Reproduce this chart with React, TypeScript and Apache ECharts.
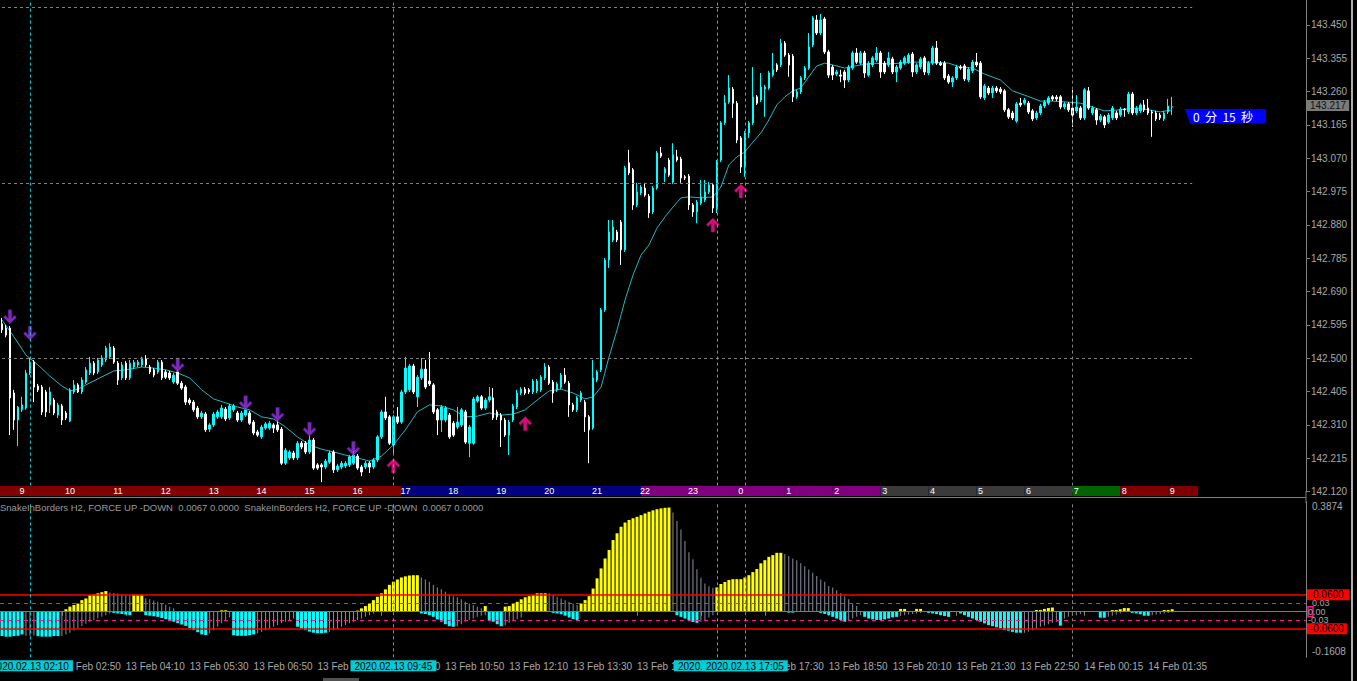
import React, { useEffect, useRef } from 'react';
import * as echarts from 'echarts';

const FONT = "'Liberation Sans', Arial, sans-serif";
const N_CAT = 327;
const categories: string[] = Array.from({ length: N_CAT }, (_, i) => String(i));

// [open, close, low, high] per M5 bar
const candles: number[][] = [
  [142.598,142.581,142.572,142.615],[142.586,142.566,142.560,142.595],[142.586,142.387,142.281,142.592],[142.401,142.324,142.296,142.410],
  [142.324,142.361,142.250,142.364],[142.353,142.367,142.347,142.390],[142.358,142.458,142.353,142.467],[142.458,142.489,142.452,142.501],
  [142.489,142.418,142.375,142.495],[142.421,142.410,142.404,142.427],[142.418,142.347,142.338,142.424],[142.404,142.347,142.333,142.410],
  [142.367,142.404,142.344,142.418],[142.381,142.344,142.338,142.387],[142.338,142.367,142.330,142.373],[142.364,142.324,142.310,142.370],
  [142.344,142.330,142.324,142.350],[142.321,142.410,142.318,142.415],[142.404,142.424,142.398,142.438],[142.424,142.404,142.401,142.429],
  [142.404,142.438,142.398,142.446],[142.432,142.467,142.427,142.475],[142.458,142.486,142.452,142.504],[142.486,142.458,142.452,142.492],
  [142.461,142.495,142.455,142.501],[142.481,142.501,142.475,142.509],[142.495,142.529,142.489,142.535],[142.504,142.532,142.498,142.543],
  [142.529,142.489,142.484,142.535],[142.486,142.438,142.424,142.492],[142.444,142.481,142.438,142.489],[142.486,142.444,142.438,142.492],
  [142.444,142.486,142.438,142.495],[142.475,142.489,142.469,142.495],[142.481,142.489,142.475,142.495],[142.481,142.501,142.475,142.504],
  [142.498,142.481,142.475,142.509],[142.475,142.461,142.455,142.481],[142.467,142.452,142.446,142.472],[142.461,142.489,142.455,142.495],
  [142.489,142.444,142.438,142.495],[142.461,142.446,142.441,142.467],[142.458,142.444,142.438,142.464],[142.432,142.452,142.427,142.458],
  [142.461,142.429,142.424,142.467],[142.429,142.415,142.410,142.435],[142.418,142.375,142.367,142.424],[142.381,142.373,142.367,142.387],
  [142.375,142.353,142.347,142.381],[142.358,142.333,142.327,142.364],[142.333,142.344,142.327,142.350],[142.341,142.296,142.290,142.347],
  [142.298,142.310,142.290,142.315],[142.310,142.341,142.304,142.347],[142.333,142.347,142.327,142.353],[142.333,142.358,142.327,142.367],
  [142.355,142.327,142.321,142.361],[142.330,142.364,142.324,142.370],[142.353,142.364,142.347,142.370],[142.344,142.324,142.318,142.350],
  [142.324,142.344,142.318,142.350],[142.338,142.353,142.333,142.358],[142.344,142.315,142.310,142.350],[142.318,142.287,142.281,142.324],
  [142.290,142.281,142.276,142.296],[142.276,142.304,142.270,142.310],[142.301,142.313,142.296,142.318],[142.301,142.315,142.296,142.321],
  [142.310,142.301,142.287,142.315],[142.310,142.296,142.290,142.324],[142.298,142.201,142.196,142.304],[142.201,142.238,142.196,142.244],
  [142.216,142.233,142.210,142.238],[142.230,142.216,142.210,142.236],[142.216,142.258,142.210,142.264],[142.258,142.247,142.241,142.264],
  [142.258,142.233,142.227,142.264],[142.233,142.267,142.227,142.281],[142.267,142.187,142.182,142.273],[142.196,142.187,142.182,142.201],
  [142.196,142.190,142.147,142.201],[142.190,142.207,142.184,142.213],[142.204,142.230,142.199,142.236],[142.233,142.182,142.173,142.238],
  [142.182,142.193,142.176,142.199],[142.190,142.201,142.184,142.207],[142.193,142.201,142.187,142.207],[142.196,142.219,142.190,142.224],
  [142.201,142.224,142.196,142.236],[142.221,142.187,142.182,142.227],[142.190,142.176,142.164,142.196],[142.190,142.201,142.184,142.207],
  [142.201,142.190,142.173,142.207],[142.190,142.210,142.184,142.216],[142.210,142.276,142.204,142.281],[142.276,142.347,142.270,142.353],
  [142.347,142.330,142.324,142.390],[142.333,142.258,142.253,142.338],[142.253,142.333,142.224,142.338],[142.333,142.318,142.313,142.361],
  [142.318,142.404,142.313,142.410],[142.404,142.472,142.398,142.504],[142.410,142.478,142.404,142.484],[142.478,142.404,142.398,142.484],
  [142.390,142.446,142.361,142.452],[142.444,142.469,142.438,142.501],[142.469,142.418,142.412,142.495],[142.435,142.427,142.421,142.518],
  [142.424,142.347,142.341,142.429],[142.353,142.324,142.281,142.358],[142.324,142.361,142.290,142.367],[142.324,142.358,142.318,142.364],
  [142.338,142.276,142.270,142.344],[142.315,142.281,142.276,142.321],[142.304,142.318,142.298,142.361],[142.310,142.353,142.304,142.358],
  [142.347,142.261,142.256,142.353],[142.258,142.304,142.218,142.310],[142.258,142.384,142.253,142.390],[142.378,142.390,142.373,142.395],
  [142.390,142.358,142.353,142.395],[142.358,142.381,142.353,142.387],[142.381,142.390,142.375,142.418],[142.387,142.330,142.324,142.415],
  [142.347,142.333,142.324,142.353],[142.338,142.324,142.247,142.344],[142.324,142.281,142.276,142.330],[142.281,142.318,142.224,142.324],
  [142.324,142.364,142.318,142.370],[142.361,142.401,142.355,142.410],[142.401,142.412,142.395,142.418],[142.412,142.401,142.395,142.418],
  [142.410,142.404,142.398,142.415],[142.404,142.435,142.398,142.441],[142.407,142.435,142.401,142.441],[142.410,142.446,142.404,142.452],
  [142.444,142.475,142.438,142.486],[142.475,142.429,142.424,142.481],[142.432,142.401,142.373,142.438],[142.410,142.427,142.404,142.432],
  [142.418,142.452,142.412,142.458],[142.452,142.432,142.427,142.472],[142.429,142.367,142.333,142.435],[142.367,142.353,142.347,142.373],
  [142.353,142.387,142.347,142.392],[142.381,142.401,142.375,142.407],[142.375,142.333,142.290,142.381],[142.333,142.296,142.201,142.338],
  [142.301,142.444,142.296,142.495],[142.438,142.461,142.432,142.467],[142.467,142.638,142.461,142.643],[142.638,142.780,142.632,142.786],
  [142.780,142.860,142.757,142.894],[142.837,142.874,142.831,142.894],[142.860,142.837,142.831,142.866],[142.888,142.809,142.766,142.894],
  [142.809,143.042,142.803,143.048],[143.057,143.028,143.022,143.094],[143.037,142.937,142.923,143.042],[142.937,142.974,142.931,143.000],
  [142.971,142.988,142.965,142.994],[142.985,142.965,142.960,143.000],[142.962,142.914,142.900,142.968],[142.917,142.985,142.911,142.991],
  [142.985,143.085,142.980,143.091],[143.085,143.076,143.071,143.102],[143.028,143.040,143.002,143.045],[143.065,143.022,143.017,143.071],
  [143.002,143.080,142.997,143.113],[143.074,143.065,143.060,143.094],[143.068,143.014,143.000,143.074],[143.017,143.014,143.008,143.022],
  [143.019,142.937,142.923,143.025],[142.937,142.917,142.903,142.942],[142.917,142.945,142.885,142.951],[142.942,142.960,142.937,143.008],
  [142.951,142.974,142.945,143.008],[142.974,142.994,142.968,143.002],[142.994,142.928,142.914,143.000],[142.928,143.059,142.914,143.065],
  [143.065,143.171,143.059,143.176],[143.171,143.228,143.165,143.250],[143.230,143.270,143.225,143.307],[143.267,143.227,143.185,143.273],
  [143.227,143.122,143.113,143.233],[143.128,143.045,143.028,143.133],[143.045,143.142,143.017,143.148],[143.142,143.171,143.128,143.176],
  [143.171,143.245,143.165,143.330],[143.245,143.227,143.222,143.250],[143.236,143.273,143.230,143.313],[143.267,143.273,143.188,143.279],
  [143.270,143.313,143.265,143.319],[143.307,143.322,143.302,143.370],[143.336,143.322,143.316,143.341],[143.336,143.398,143.330,143.410],
  [143.398,143.364,143.359,143.404],[143.364,143.336,143.302,143.370],[143.361,143.245,143.230,143.367],[143.245,143.259,143.239,143.265],
  [143.259,143.299,143.253,143.304],[143.299,143.327,143.293,143.333],[143.327,143.387,143.322,143.427],[143.393,143.470,143.387,143.475],
  [143.464,143.427,143.421,143.478],[143.427,143.464,143.421,143.481],[143.467,143.373,143.367,143.473],[143.373,143.307,143.299,143.379],
  [143.330,143.307,143.293,143.336],[143.310,143.316,143.304,143.322],[143.307,143.304,143.287,143.322],[143.316,143.293,143.270,143.322],
  [143.293,143.330,143.287,143.336],[143.327,143.370,143.322,143.376],[143.370,143.344,143.339,143.384],[143.341,143.370,143.336,143.376],
  [143.370,143.313,143.299,143.376],[143.307,143.341,143.302,143.347],[143.336,143.356,143.330,143.361],[143.350,143.370,143.344,143.387],
  [143.370,143.316,143.299,143.376],[143.341,143.316,143.310,143.347],[143.336,143.356,143.330,143.373],[143.353,143.316,143.310,143.359],
  [143.316,143.330,143.287,143.336],[143.327,143.344,143.322,143.350],[143.341,143.356,143.336,143.361],[143.344,143.364,143.339,143.370],
  [143.367,143.316,143.302,143.373],[143.316,143.336,143.310,143.341],[143.330,143.353,143.324,143.359],[143.356,143.316,143.307,143.361],
  [143.313,143.341,143.307,143.347],[143.341,143.384,143.336,143.390],[143.384,143.341,143.336,143.404],[143.341,143.336,143.333,143.347],
  [143.341,143.299,143.293,143.347],[143.304,143.287,143.282,143.310],[143.287,143.299,143.273,143.304],[143.299,143.330,143.293,143.336],
  [143.330,143.327,143.322,143.336],[143.333,143.296,143.290,143.339],[143.293,143.324,143.287,143.330],[143.319,143.344,143.313,143.350],
  [143.344,143.336,143.330,143.370],[143.341,143.245,143.239,143.347],[143.242,143.276,143.236,143.282],[143.270,143.256,143.250,143.276],
  [143.256,143.270,143.242,143.276],[143.270,143.262,143.256,143.276],[143.267,143.259,143.253,143.273],[143.262,143.208,143.202,143.267],
  [143.208,143.188,143.182,143.213],[143.199,143.185,143.179,143.205],[143.176,143.225,143.171,143.230],[143.227,143.222,143.216,143.242],
  [143.227,143.236,143.222,143.242],[143.227,143.202,143.196,143.233],[143.205,143.182,143.176,143.210],[143.185,143.199,143.179,143.205],
  [143.199,143.219,143.193,143.225],[143.219,143.230,143.213,143.236],[143.227,143.242,143.222,143.247],[143.245,143.239,143.233,143.250],
  [143.244,143.239,143.233,143.250],[143.245,143.216,143.210,143.250],[143.216,143.225,143.210,143.230],[143.225,143.208,143.202,143.230],
  [143.213,143.193,143.159,143.265],[143.205,143.216,143.199,143.250],[143.213,143.185,143.179,143.219],[143.185,143.265,143.179,143.270],
  [143.262,143.213,143.208,143.273],[143.199,143.213,143.193,143.219],[143.208,143.179,143.165,143.213],[143.179,143.190,143.173,143.196],
  [143.188,143.165,143.156,143.193],[143.173,143.193,143.168,143.199],[143.185,143.213,143.179,143.219],[143.199,143.185,143.179,143.205],
  [143.193,143.210,143.188,143.216],[143.210,143.208,143.188,143.213],[143.202,143.253,143.196,143.259],[143.253,143.199,143.193,143.259],
  [143.199,143.213,143.193,143.219],[143.205,143.222,143.199,143.227],[143.222,143.208,143.202,143.236],[143.213,143.199,143.193,143.239],
  [143.202,143.199,143.131,143.208],[143.199,143.182,143.176,143.205],[143.193,143.185,143.179,143.199],[143.182,143.199,143.176,143.205],
  [143.202,143.219,143.196,143.239],[143.216,143.217,143.193,143.245],
];

// moving average: [bar index, price]
const maPoints: number[][] = [
  [0,142.609],[3,142.561],[6,142.509],[9,142.481],[12,142.449],[15,142.421],[17,142.407],[19,142.412],[22,142.430],[25,142.447],
  [28,142.464],[31,142.467],[35,142.475],[38,142.472],[41,142.467],[44,142.458],[47,142.444],[50,142.410],[53,142.384],[56,142.373],
  [59,142.361],[62,142.353],[65,142.333],[68,142.327],[71,142.304],[74,142.276],[77,142.253],[80,142.241],[83,142.233],[86,142.224],
  [89,142.216],[92,142.207],[95,142.221],[98,142.253],[101,142.296],[104,142.347],[107,142.367],[110,142.364],[113,142.353],[116,142.333],
  [119,142.335],[122,142.344],[125,142.338],[128,142.341],[131,142.353],[134,142.381],[137,142.407],[140,142.412],[143,142.401],[146,142.384],
  [148,142.390],[150,142.418],[152,142.504],[154,142.581],[156,142.666],[158,142.737],[160,142.794],[162,142.823],[164,142.871],[166,142.903],
  [168,142.931],[170,142.957],[172,142.960],[175,142.957],[178,142.960],[180,142.988],[182,143.051],[184,143.074],[186,143.088],[188,143.116],
  [190,143.142],[192,143.179],[194,143.222],[196,143.245],[198,143.262],[200,143.270],[202,143.302],[204,143.333],[206,143.341],[208,143.336],
  [211,143.327],[215,143.336],[218,143.341],[222,143.339],[225,143.341],[228,143.344],[233,143.344],[237,143.341],[240,143.330],[243,143.327],
  [246,143.310],[250,143.293],[253,143.262],[256,143.250],[260,143.233],[263,143.233],[267,143.230],[270,143.227],[273,143.216],[276,143.205],
  [280,143.208],[283,143.213],[286,143.210],[290,143.202],[293,143.208],
];

const downArrows: number[][] = [[2,142.618],[7,142.571],[44,142.481],[61,142.373],[69,142.340],[77,142.298],[88,142.243]];
const upArrows: number[][] = [[98,142.194],[131,142.314],[178,142.880],[185,142.977]];

const priceLevels: number[] = [142.5, 143.0, 143.5];
const levelEndBar = '298';
const lastPrice = 143.217;
const timerText = '0  分  15  秒';

const cyanVLines: [string, string][] = [['7','2020.02.13 02:10'],['98','2020.02.13 09:45'],['179','2020.02.13 16:30'],['186','2020.02.13 17:05']];
const grayVLines: string[] = ['268'];

const timeLabels: [number, string][] = [
  [15,'13 Feb 02:50'],[31,'13 Feb 04:10'],[47,'13 Feb 05:30'],[63,'13 Feb 06:50'],[79,'13 Feb 08:10'],[95,'13 Feb 09:30'],
  [111,'13 Feb 10:50'],[127,'13 Feb 12:10'],[143,'13 Feb 13:30'],[159,'13 Feb 14:50'],[175,'13 Feb 16:10'],[191,'13 Feb 17:30'],
  [207,'13 Feb 18:50'],[223,'13 Feb 20:10'],[239,'13 Feb 21:30'],[255,'13 Feb 22:50'],[271,'14 Feb 00:15'],[287,'14 Feb 01:35'],
];

// hour strip: one block per hour (12 bars), first block starts at bar -8
const hourLabels: number[] = [8,9,10,11,12,13,14,15,16,17,18,19,20,21,22,23,0,1,2,3,4,5,6,7,8,9];
const hourFirstStart = -8;
const barsPerHour = 12;
const hourStripEnd = 299.5;
const hourColors: Record<number, string> = {
  8:'#800000',9:'#800000',10:'#800000',11:'#800000',12:'#800000',13:'#800000',14:'#800000',15:'#800000',16:'#800000',
  17:'#000080',18:'#000080',19:'#000080',20:'#000080',21:'#000080',
  22:'#800080',23:'#800080',0:'#800080',1:'#800080',2:'#800080',
  3:'#3a3a3a',4:'#3a3a3a',5:'#3a3a3a',6:'#3a3a3a',7:'#006400',
};

// SnakeInBorders histogram runs: [first bar, values...]
const yellowRuns: [number, number[]][] = [
  [16,[0.009,0.018,0.024,0.029,0.041,0.047,0.059,0.061,0.065,0.069,0.073]],
  [33,[0.06,0.06,0.06]],
  [55,[0.005,0.005]],
  [89,[0.004,0.012,0.02,0.029,0.041,0.053,0.065,0.079,0.095,0.106,0.114,0.121,0.125,0.128,0.129,0.129]],
  [121,[0.02]],
  [126,[0.018,0.02,0.029,0.035,0.044,0.051,0.055,0.059,0.065,0.065,0.065]],
  [145,[0.029,0.041,0.055,0.082,0.118,0.153,0.188,0.218,0.253,0.277,0.3,0.315,0.324,0.33,0.335,0.341,0.347,0.353,0.358,0.362,0.365,0.367,0.368]],
  [179,[0.086,0.098,0.105,0.112,0.115,0.115,0.115,0.121,0.129,0.14,0.151,0.171,0.182,0.194,0.2,0.208,0.208]],
  [225,[0.01,0.01]],
  [229,[0.01,0.01]],
  [259,[0.006,0.006,0.01,0.013,0.015]],
  [278,[0.006,0.006,0.009,0.013,0.013]],
  [291,[0.006,0.006,0.009]],
];
const cyanRuns: [number, number[]][] = [
  [0,[-0.086,-0.088,-0.088,-0.086,-0.085,-0.08]],
  [9,[-0.086,-0.088,-0.088,-0.088,-0.086,-0.086]],
  [28,[-0.004,-0.006,-0.008,-0.01,-0.012]],
  [36,[-0.012,-0.014,-0.016,-0.018,-0.022,-0.026,-0.03,-0.035,-0.04,-0.045,-0.05,-0.058,-0.065,-0.072,-0.08,-0.082]],
  [58,[-0.083,-0.085,-0.085,-0.085,-0.083,-0.08]],
  [74,[-0.053,-0.059,-0.065,-0.07,-0.074,-0.076,-0.076,-0.074]],
  [105,[-0.006,-0.008,-0.012,-0.018,-0.027,-0.035,-0.044,-0.051,-0.053]],
  [122,[-0.03,-0.035,-0.044,-0.051]],
  [138,[-0.004,-0.006,-0.009,-0.014,-0.02,-0.026,-0.029]],
  [169,[-0.012,-0.018,-0.024,-0.03,-0.036,-0.039]],
  [197,[-0.003,-0.003]],
  [205,[-0.004,-0.008,-0.012,-0.018,-0.024,-0.029,-0.035]],
  [216,[-0.018,-0.024,-0.027,-0.029,-0.029,-0.027,-0.024,-0.02,-0.018]],
  [232,[-0.004,-0.006,-0.008,-0.012,-0.015,-0.018]],
  [240,[-0.006,-0.012,-0.018,-0.024,-0.029,-0.035,-0.041,-0.047,-0.051,-0.055,-0.059,-0.065,-0.067,-0.071,-0.074,-0.074]],
  [265,[-0.049]],
  [275,[-0.021,-0.021]],
  [283,[-0.004,-0.006,-0.009,-0.014,-0.014]],
];
const grayUpRuns: [number, number[]][] = [
  [27,[0.068,0.066,0.064,0.062,0.06,0.058,0.055,0.052,0.05]],
  [36,[0.048,0.044,0.04,0.035,0.03,0.025,0.018,0.012]],
  [105,[0.121,0.114,0.106,0.094,0.086,0.079,0.071,0.062,0.055,0.051,0.044,0.035,0.029,0.024,0.018,0.012]],
  [137,[0.065,0.059,0.053,0.047,0.041,0.035,0.029,0.024]],
  [168,[0.35,0.32,0.29,0.25,0.21,0.185,0.15,0.12,0.1,0.09,0.085]],
  [196,[0.204,0.197,0.188,0.182,0.171,0.161,0.149,0.138,0.126,0.114,0.106,0.091,0.086,0.076,0.065,0.055,0.044,0.029,0.02]],
];
const grayDownRuns: [number, number[]][] = [
  [6,[-0.086,-0.085,-0.084]],
  [15,[-0.086,-0.08,-0.074,-0.066,-0.058,-0.05,-0.042,-0.035,-0.03,-0.024,-0.018,-0.012,-0.006]],
  [52,[-0.076,-0.065,-0.053,-0.041,-0.029,-0.02]],
  [64,[-0.076,-0.071,-0.065,-0.059,-0.053,-0.047,-0.041,-0.035,-0.029,-0.024]],
  [82,[-0.071,-0.065,-0.059,-0.053,-0.047,-0.041,-0.035,-0.029,-0.024,-0.018,-0.012,-0.006]],
  [114,[-0.051,-0.044,-0.035,-0.029,-0.024,-0.018,-0.014,-0.012]],
  [126,[-0.047,-0.039,-0.032,-0.026,-0.02]],
  [175,[-0.035,-0.029,-0.02,-0.012]],
  [212,[-0.03,-0.024,-0.018,-0.012]],
  [225,[-0.015,-0.012,-0.01,-0.008,-0.006,-0.004,-0.002]],
  [256,[-0.074,-0.071,-0.065,-0.059,-0.053,-0.049,-0.044,-0.039,-0.035,-0.029,-0.024,-0.018,-0.014,-0.012,-0.008,-0.006]],
  [277,[-0.018,-0.014,-0.01,-0.006]],
  [288,[-0.012,-0.01,-0.008,-0.006,-0.004,-0.002]],
];

const indMax = 0.3874;
const indMin = -0.1608;
const bandLevel = 0.06;
const innerLevel = 0.03;

function expand(runs: [number, number[]][]): (number | null)[] {
  const a: (number | null)[] = new Array(N_CAT).fill(null);
  runs.forEach(([s, vals]) => vals.forEach((v, i) => { a[s + i] = v; }));
  return a;
}

const DOWN_ARROW = 'path://M4,0 L7,0 L7,7 L9.5,4.5 L11,6 L5.5,11.5 L0,6 L1.5,4.5 L4,7 Z';
const UP_ARROW = 'path://M4,11.5 L7,11.5 L7,4.5 L9.5,7 L11,5.5 L5.5,0 L0,5.5 L1.5,7 L4,4.5 Z';

export default function App() {
  const ref = useRef<HTMLDivElement>(null);
  useEffect(() => {
    if (!ref.current) return;
    const chart = echarts.init(ref.current, null, { renderer: 'svg' });
    const timeMap = new Map<number, string>(timeLabels);
    const hourRows = hourLabels.map((h, i) => {
      const s = hourFirstStart + i * barsPerHour;
      return [s, Math.min(s + barsPerHour, hourStripEnd), s + 1, h];
    });
    const gray = '#808080';
    const txt = '#a8a8a8';

    const mainMarkLines: any[] = [
      ...priceLevels.map((p) => [
        { coord: ['0', p], lineStyle: { color: gray, type: [3, 3], width: 1 } },
        { coord: [levelEndBar, p] },
      ]),
      ...cyanVLines.map(([k]) => ({ xAxis: k, lineStyle: { color: '#00c8d4', type: [3, 3], width: 1 }, label: { show: false } })),
      ...grayVLines.map((k) => ({ xAxis: k, lineStyle: { color: gray, type: [3, 3], width: 1 }, label: { show: false } })),
      {
        yAxis: lastPrice, lineStyle: { color: 'rgba(0,0,0,0)', width: 0 },
        label: { show: true, position: 'end', formatter: lastPrice.toFixed(3), backgroundColor: '#7a7a7a', color: '#111', padding: [1, 3, 0, 3], distance: 1, fontSize: 10, fontFamily: FONT },
      },
    ];

    const indMarkLines: any[] = [
      { yAxis: 0, lineStyle: { color: '#e0409a', type: 'solid', width: 1 },
        label: { show: true, position: 'end', distance: 2, formatter: '{b|0}.00', color: txt, fontSize: 9, fontFamily: FONT,
          rich: { b: { borderColor: '#ff1493', borderWidth: 1.5, padding: [1, 0, 0, 0], color: txt, fontSize: 9, fontFamily: FONT } } } },
      { yAxis: innerLevel, lineStyle: { color: '#ff1493', type: [4, 4], width: 1 },
        label: { show: true, position: 'end', distance: 6, formatter: innerLevel.toFixed(2), color: txt, fontSize: 9, fontFamily: FONT } },
      { yAxis: -innerLevel, lineStyle: { color: '#ff1493', type: [4, 4], width: 1 },
        label: { show: true, position: 'end', distance: 2, formatter: (-innerLevel).toFixed(2), color: txt, fontSize: 9, fontFamily: FONT } },
      { yAxis: bandLevel, lineStyle: { color: '#ff0000', type: 'solid', width: 1.5 },
        label: { show: true, position: 'end', distance: 1, formatter: bandLevel.toFixed(4), backgroundColor: '#ff0000', color: '#000', padding: [1, 6, 0, 6], fontSize: 10, fontFamily: FONT } },
      { yAxis: -bandLevel, lineStyle: { color: '#ff0000', type: 'solid', width: 1.5 },
        label: { show: true, position: 'end', distance: 1, formatter: (-bandLevel).toFixed(4), backgroundColor: '#ff0000', color: '#000', padding: [1, 3, 0, 3], fontSize: 10, fontFamily: FONT } },
      ...grayVLines.map((k) => ({ xAxis: k, lineStyle: { color: gray, type: [3, 3], width: 1 }, label: { show: false } })),
      ...cyanVLines.map(([k, t]) => ({
        xAxis: k, lineStyle: { color: '#00c8d4', type: [3, 3], width: 1 },
        label: { show: true, position: 'start', distance: 3, formatter: t, backgroundColor: '#00ccd6', color: '#000', padding: [1, 4, 0, 4], fontSize: 10, fontFamily: FONT },
      })),
    ];

    const option: any = {
      backgroundColor: '#000000',
      animation: false,
      title: {
        text: 'SnakeInBorders H2, FORCE UP -DOWN  0.0067 0.0000  SnakeInBorders H2, FORCE UP -DOWN  0.0067 0.0000',
        left: 0, top: 502, padding: 0,
        textStyle: { color: '#9a9a9a', fontSize: 9.5, fontWeight: 'normal', fontFamily: FONT },
      },
      grid: [
        { left: -2, top: 0, width: 1308, height: 491.6 },
        { left: -2, top: 486, width: 1308, height: 10 },
        { left: -2, top: 502, width: 1308, height: 155.3 },
      ],
      xAxis: [
        { type: 'category', gridIndex: 0, data: categories, show: false },
        { type: 'value', gridIndex: 1, min: -0.5, max: N_CAT - 0.5, show: false },
        {
          type: 'category', gridIndex: 2, data: categories,
          axisLine: { show: true, lineStyle: { color: gray } },
          axisTick: { show: true, alignWithLabel: true, length: 4, interval: (i: number) => timeMap.has(i), lineStyle: { color: gray } },
          axisLabel: {
            show: true, interval: (i: number) => timeMap.has(i), formatter: (_v: string, i: number) => timeMap.get(i) || '',
            align: 'left', margin: 4, color: txt, fontSize: 10, fontFamily: FONT,
          },
        },
        { type: 'category', gridIndex: 2, data: categories, show: false },
      ],
      yAxis: [
        {
          type: 'value', gridIndex: 0, position: 'right', min: 142.12, max: 143.521, interval: 0.095,
          splitLine: { show: false },
          axisLine: { show: true, lineStyle: { color: gray } },
          axisTick: { show: true, length: 4, lineStyle: { color: gray } },
          axisLabel: { formatter: (v: number) => v.toFixed(3), showMaxLabel: false, color: txt, fontSize: 10, margin: 5, fontFamily: FONT },
        },
        { type: 'value', gridIndex: 1, min: 0, max: 1, show: false },
        {
          type: 'value', gridIndex: 2, position: 'right', min: indMin, max: indMax,
          splitLine: { show: false },
          axisLine: { show: true, lineStyle: { color: gray } },
          axisTick: { show: false },
          axisLabel: {
            margin: 6, color: txt, fontSize: 10, fontFamily: FONT,
            formatter: (v: number) => Math.abs(v - indMax) < 1e-9 ? '{t|' + indMax.toFixed(4) + '}' : Math.abs(v - indMin) < 1e-9 ? '{m|' + indMin.toFixed(4) + '}' : '',
            rich: {
              t: { color: txt, fontSize: 10, fontFamily: FONT, padding: [8, 0, 0, 0] },
              m: { color: txt, fontSize: 10, fontFamily: FONT, padding: [0, 0, 12, 0] },
            },
          },
        },
      ],
      series: [
        {
          type: 'line', xAxisIndex: 0, yAxisIndex: 0, data: maPoints, showSymbol: false, silent: true,
          lineStyle: { color: '#1fb8c2', width: 1 }, z: 2,
        },
        {
          type: 'candlestick', xAxisIndex: 0, yAxisIndex: 0, data: candles, barWidth: 2, z: 3,
          itemStyle: { color: '#00ffff', color0: '#ffffff', borderColor: '#00ffff', borderColor0: '#ffffff', borderWidth: 1 },
          markLine: { symbol: ['none', 'none'], silent: true, animation: false, data: mainMarkLines },
        },
        {
          type: 'scatter', xAxisIndex: 0, yAxisIndex: 0, data: downArrows, symbol: DOWN_ARROW, symbolSize: [13, 14], z: 4,
          itemStyle: { color: '#9a35ea', borderColor: '#5a1a8a', borderWidth: 0.6 },
        },
        {
          type: 'scatter', xAxisIndex: 0, yAxisIndex: 0, data: upArrows, symbol: UP_ARROW, symbolSize: [13, 14], z: 4,
          itemStyle: { color: '#ff1493', borderColor: '#a0105a', borderWidth: 0.6 },
        },
        {
          type: 'custom', xAxisIndex: 1, yAxisIndex: 1, data: hourRows, z: 5, silent: true,
          renderItem: (params: any, api: any) => {
            const p0 = api.coord([api.value(0), 1]);
            const p1 = api.coord([api.value(1), 0]);
            const c = api.coord([api.value(2), 0.5]);
            const h = hourLabels[params.dataIndex];
            const children: any[] = [
              { type: 'rect', shape: { x: p0[0], y: p0[1], width: p1[0] - p0[0], height: p1[1] - p0[1] }, style: { fill: hourColors[h] } },
            ];
            if (c[0] > 4) {
              children.push({ type: 'text', x: c[0], y: c[1], style: { text: String(h), fill: '#ffffff', align: 'center', verticalAlign: 'middle', fontSize: 9, fontFamily: FONT } });
            }
            return { type: 'group', children };
          },
        },
        {
          type: 'bar', xAxisIndex: 2, yAxisIndex: 2, data: expand(yellowRuns), barWidth: 3, barGap: '-100%', z: 3,
          itemStyle: { color: '#ffff00' },
          markLine: { symbol: ['none', 'none'], silent: true, animation: false, data: indMarkLines },
        },
        {
          type: 'bar', xAxisIndex: 2, yAxisIndex: 2, data: expand(cyanRuns), barWidth: 3, barGap: '-100%', z: 3,
          itemStyle: { color: '#00ffff' },
        },
        {
          type: 'bar', xAxisIndex: 3, yAxisIndex: 2, data: expand(grayUpRuns), barWidth: 1, barGap: '-100%', z: 2,
          itemStyle: { color: '#8a8fa0' },
        },
        {
          type: 'bar', xAxisIndex: 3, yAxisIndex: 2, data: expand(grayDownRuns), barWidth: 1, barGap: '-100%', z: 2,
          itemStyle: { color: '#8a8fa0' },
        },
      ],
      graphic: [
        { type: 'line', shape: { x1: 0, y1: 497.5, x2: 1306, y2: 497.5 }, style: { stroke: gray, lineWidth: 1 }, silent: true },
        { type: 'line', shape: { x1: 1306, y1: 491, x2: 1306, y2: 503 }, style: { stroke: gray, lineWidth: 1 }, silent: true },
        { type: 'line', shape: { x1: 1352, y1: 0, x2: 1352, y2: 681 }, style: { stroke: '#e8e8e8', lineWidth: 1.5 }, silent: true },
        { type: 'rect', shape: { x: 323, y: 678, width: 36, height: 3 }, style: { fill: '#505050' }, silent: true },
        { type: 'polygon', shape: { points: [[1185, 109], [1266, 109], [1266, 123], [1190, 123]] }, style: { fill: '#0000ff' }, silent: true },
        { type: 'text', x: 1193, y: 116.5, style: { text: timerText, fill: '#ffffff', verticalAlign: 'middle', fontSize: 12, fontFamily: "'Noto Sans CJK JP', sans-serif" }, silent: true },
      ],
    };
    chart.setOption(option);
    return () => { chart.dispose(); };
  }, []);
  return <div ref={ref} style={{ position: 'fixed', left: 0, top: 0, width: 1357, height: 681 }} />;
}
